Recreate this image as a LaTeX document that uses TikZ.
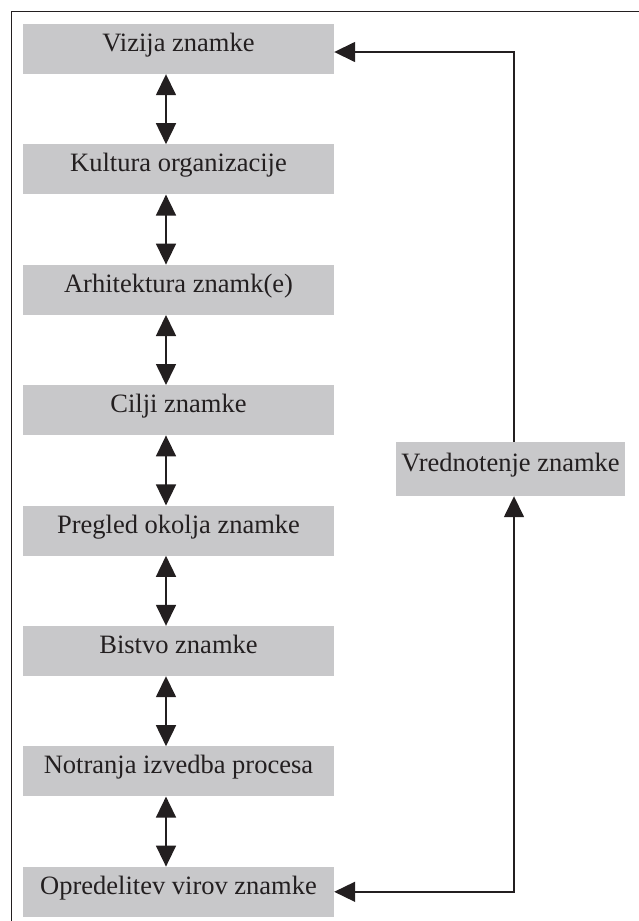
\documentclass[tikz,border=0pt]{standalone}
\usepackage{fontspec}
\setmainfont{Liberation Serif}
\usetikzlibrary{positioning,arrows.meta}
\definecolor{boxgray}{HTML}{C8C8CA}
\definecolor{ink}{HTML}{231F20}

\begin{document}
\begin{tikzpicture}[x=1pt, y=-1pt,
  box/.style={fill=boxgray, text=ink, inner sep=0pt, align=center,
    minimum width=311pt, minimum height=50pt, text height=0.7em, text depth=0.22em,
    font=\fontsize{26.5}{30}\selectfont},
  tip/.style={Triangle[width=20pt,length=21pt]},
  ar/.style={{Triangle[width=20pt,length=21pt]}-{Triangle[width=20pt,length=21pt]}, line width=1.6pt, draw=ink},
  fb/.style={-{Triangle[width=20pt,length=21pt]}, line width=1.6pt, draw=ink},
  node distance=70pt
]
\useasboundingbox (0,0) rectangle (639,921);
\draw[ink, line width=1pt] (11,921) -- (11,11) -- (639,11);

\node[box] (viz) at (178.5,49) {Vizija znamke};
\node[box, below=of viz] (kul) {Kultura organizacije};
\node[box, below=of kul] (arh) {Arhitektura znamk(e)};
\node[box, below=of arh] (cil) {Cilji znamke};
\node[box, below=of cil] (pre) {Pregled okolja znamke};
\node[box, below=of pre] (bis) {Bistvo znamke};
\node[box, below=of bis] (notr) {Notranja izvedba procesa};
\node[box, below=of notr] (opr) {Opredelitev virov znamke};
\node[box, minimum width=229pt, minimum height=54pt] (vred) at (510.5,469) {Vrednotenje znamke};

\foreach \a/\b in {viz/kul, kul/arh, arh/cil, cil/pre, pre/bis, bis/notr, notr/opr}
  \draw[ar] ([xshift=-12.5pt]\a.south) -- ([xshift=-12.5pt]\b.north);

\draw[fb] ([xshift=3.5pt]vred.north) |- ([yshift=-3pt]viz.east);
\draw[ar] (opr.east) -| ([xshift=3.5pt]vred.south);
\end{tikzpicture}
\end{document}
